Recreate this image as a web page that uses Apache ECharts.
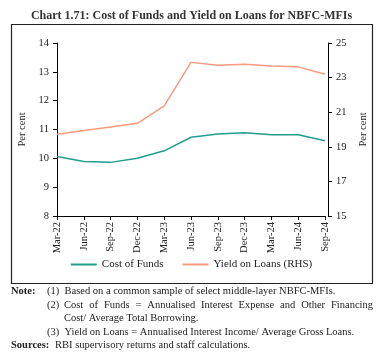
<!DOCTYPE html>
<html><head><meta charset="utf-8">
<script src="https://cdn.jsdelivr.net/npm/echarts@6/dist/echarts.min.js"></script>
<style>html,body{margin:0;padding:0;background:#fff}#c{width:383px;height:360px}</style>
</head><body><div id="c"></div>
<script>
const categories = ['Mar-22','Jun-22','Sep-22','Dec-22','Mar-23','Jun-23','Sep-23','Dec-23','Mar-24','Jun-24','Sep-24'];
const costOfFunds = [10.06, 9.89, 9.86, 10.0, 10.26, 10.73, 10.84, 10.89, 10.82, 10.82, 10.61];
const yieldOnLoans = [19.72, 19.94, 20.15, 20.36, 21.36, 23.88, 23.71, 23.77, 23.67, 23.62, 23.19];
const leftTicks = [8, 14, 1];
const rightTicks = [15, 25, 2];
const FONT = 'Liberation Serif';
const NOTE_FONT = '10.5px "Liberation Serif"';
const NOTE_BOLD = 'bold 10.5px "Liberation Serif"';

// justified note line (2)
const ctx = document.createElement('canvas').getContext('2d');
ctx.font = NOTE_FONT;
const justWords = ['Cost','of','Funds','=','Annualised','Interest','Expense','and','Other','Financing'];
const jStart = 64, jEnd = 373;
const wsum = justWords.reduce((s,w)=>s+ctx.measureText(w).width,0);
const gap = (jEnd - jStart - wsum)/(justWords.length-1);
const justGraphics = [];
let xx = jStart;
justWords.forEach(w=>{
  justGraphics.push({type:'text', x:xx, y:300, style:{text:w, font:NOTE_FONT, fill:'#222'}});
  xx += ctx.measureText(w).width + gap;
});

const chart = echarts.init(document.getElementById('c'), null, {renderer:'canvas'});
chart.setOption({
  backgroundColor:'#fff',
  animation:false,
  textStyle:{fontFamily:FONT, color:'#222'},
  title:{text:'Chart 1.71: Cost of Funds and Yield on Loans for NBFC-MFIs', left:'center', top:5,
    textStyle:{fontFamily:FONT, fontWeight:'bold', fontSize:12, color:'#333'}},
  grid:{left:57, right:58, top:43, bottom:144},
  legend:{bottom:85, left:'center', itemWidth:26, itemHeight:2, itemGap:19, icon:'rect',
    textStyle:{fontFamily:FONT, fontSize:11, color:'#222'},
    data:['Cost of Funds','Yield on Loans (RHS)']},
  xAxis:{type:'category', data:categories, boundaryGap:false,
    axisLine:{lineStyle:{color:'#000', width:1}}, axisTick:{alignWithLabel:true, length:4, lineStyle:{color:'#000'}},
    axisLabel:{rotate:90, fontSize:10.5, color:'#222', fontFamily:FONT, margin:6}},
  yAxis:[
    {type:'value', min:leftTicks[0], max:leftTicks[1], interval:leftTicks[2], name:'Per cent', nameLocation:'middle', nameGap:28,
     nameTextStyle:{fontFamily:FONT, fontSize:10.5, color:'#222'},
     axisLine:{show:true, lineStyle:{color:'#000'}}, axisTick:{show:true, length:4, lineStyle:{color:'#000'}},
     splitLine:{show:false}, axisLabel:{fontSize:10.5, color:'#222', fontFamily:FONT, margin:8}},
    {type:'value', min:rightTicks[0], max:rightTicks[1], interval:rightTicks[2], name:'Per cent', nameLocation:'middle', nameGap:29, offset:3,
     nameTextStyle:{fontFamily:FONT, fontSize:10.5, color:'#222'},
     axisLine:{show:true, lineStyle:{color:'#000'}}, axisTick:{show:true, length:4, lineStyle:{color:'#000'}},
     splitLine:{show:false}, axisLabel:{fontSize:10.5, color:'#222', fontFamily:FONT, margin:8}}
  ],
  series:[
    {name:'Cost of Funds', type:'line', data:costOfFunds, yAxisIndex:0, symbol:'none', lineStyle:{color:'#1f9e8d', width:1.5}, itemStyle:{color:'#1f9e8d'}},
    {name:'Yield on Loans (RHS)', type:'line', data:yieldOnLoans, yAxisIndex:1, symbol:'none', lineStyle:{color:'#f79a7f', width:1.5}, itemStyle:{color:'#f79a7f'}}
  ],
  graphic:[
    {type:'rect', shape:{x:11.5, y:24.5, width:361, height:259}, style:{fill:'none', stroke:'#222', lineWidth:1.2}, silent:true},
    {type:'text', x:11, y:286, style:{text:'Note:', font:NOTE_BOLD, fill:'#222'}},
    {type:'text', x:47, y:286, style:{text:'(1)  Based on a common sample of select middle-layer NBFC-MFIs.', font:NOTE_FONT, fill:'#222'}},
    {type:'text', x:47, y:300, style:{text:'(2)', font:NOTE_FONT, fill:'#222'}},
    ...justGraphics,
    {type:'text', x:64, y:313, style:{text:'Cost/ Average Total Borrowing.', font:NOTE_FONT, fill:'#222'}},
    {type:'text', x:47, y:327, style:{text:'(3)  Yield on Loans = Annualised Interest Income/ Average Gross Loans.', font:NOTE_FONT, fill:'#222'}},
    {type:'text', x:11, y:340, style:{text:'Sources:', font:NOTE_BOLD, fill:'#222'}},
    {type:'text', x:55, y:340, style:{text:'RBI supervisory returns and staff calculations.', font:NOTE_FONT, fill:'#222'}}
  ]
});
</script></body></html>
